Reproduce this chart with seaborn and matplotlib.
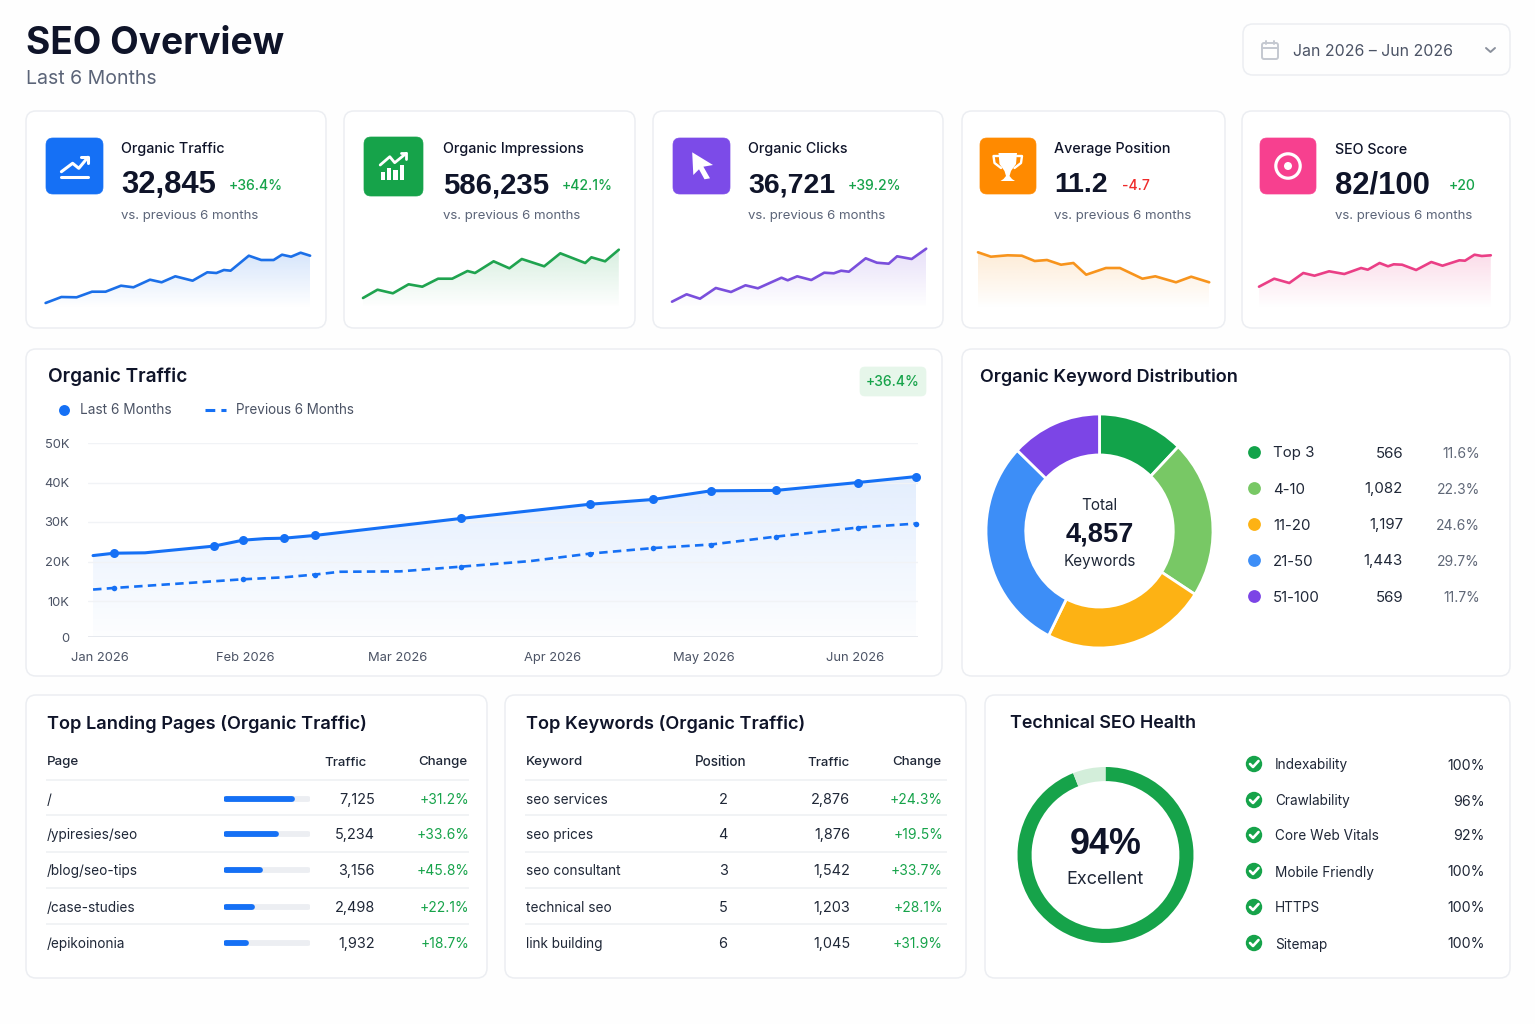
import matplotlib
matplotlib.use("Agg")
import matplotlib.pyplot as plt
import matplotlib.colors as mcolors
from matplotlib.patches import FancyBboxPatch, Circle, Polygon
import numpy as np
import seaborn as sns

W, H = 1535, 1024

# kpi cards
kpi_titles = ["Organic Traffic", "Organic Impressions", "Organic Clicks", "Average Position", "SEO Score"]
kpi_values = ["32,845", "586,235", "36,721", "11.2", "82/100"]
kpi_deltas = ["+36.4%", "+42.1%", "+39.2%", "-4.7", "+20"]
kpi_colors = ["#1570f5", "#16a34a", "#7c4be8", "#ff8a00", "#f7408f"]
spark_colors = ["#1b6fe8", "#1fa34f", "#7a4fdc", "#f7941d", "#ea3f86"]

# sparklines: x offset along the card, height of the line
spark1_x = [0, 15.8, 31, 46.4, 60, 75.4, 87.8, 104.4, 116, 129.7, 147, 161.7, 170.8, 178.3, 185, 203.2, 215.6, 228, 236.4, 245.5, 255, 264.5]
spark1_y = [5, 11, 10.7, 16.3, 16.3, 22.3, 20.7, 28.3, 25.7, 31.7, 27.3, 35.7, 35, 38, 37.3, 52.3, 48, 48, 53.3, 51.3, 55.3, 52.3]
spark2_x = [0, 14.5, 29.9, 45.6, 59.3, 75.1, 89.2, 104.5, 112, 130.6, 146.4, 158.8, 181.2, 197.3, 222.2, 228.4, 242.1, 255.8]
spark2_y = [10, 18.3, 14.7, 23.7, 21.3, 29.3, 29.3, 37, 35, 46.7, 39.7, 49, 41.7, 54.7, 45, 50.7, 46.7, 58.3]
spark3_x = [0, 14.6, 28, 43.8, 59, 73.5, 85.9, 109.5, 115.7, 125.2, 139.3, 152.2, 161.8, 169.1, 176.9, 193.7, 204.9, 216.7, 225.1, 239.7, 254.2]
spark3_y = [6.3, 13.7, 9.3, 20, 16, 22.7, 19.7, 30.3, 27.7, 31.7, 28, 35.3, 34.7, 37.3, 36.3, 49.7, 45.3, 44.3, 51.7, 49, 59.3]
spark4_x = [0, 12.9, 29.7, 43.8, 56.7, 69, 83, 95.4, 108.2, 127.9, 141.9, 164.4, 177.3, 198, 213.2, 231.2]
spark4_y = [55.7, 51.3, 52.7, 52.3, 47, 48, 43.3, 45, 33.3, 40, 40, 29.3, 31.7, 25.7, 31.3, 25.7]
spark5_x = [0, 15.2, 30.3, 44.3, 55.5, 70.1, 85.3, 102.1, 108.8, 120.6, 129, 134.7, 143.1, 157.1, 172.3, 183.5, 200.4, 206, 215.5, 222.8, 231.8]
spark5_y = [21.3, 29.3, 25, 35, 32.3, 36.7, 34, 40, 38.3, 45, 41.7, 43.7, 43.3, 38, 46, 42.3, 47.7, 47.3, 53.3, 52, 52.7]

# main traffic chart, x in months from Jan
month_labels = ["Jan 2026", "Feb 2026", "Mar 2026", "Apr 2026", "May 2026", "Jun 2026"]
month_ticks = [0, 0.96, 1.97, 3.0, 4.0, 5.0]
traffic_ticks = [0, 10000, 20000, 30000, 40000, 50000]
traffic_tick_labels = ["0", "10K", "20K", "30K", "40K", "50K"]
current_x = [-0.046, 0.093, 0.298, 0.755, 0.947, 1.093, 1.219, 1.424, 2.391, 3.245, 3.662, 4.046, 4.477, 5.02, 5.404]
current_y = [21500, 22100, 22200, 23900, 25400, 25800, 25900, 26600, 30900, 34500, 35700, 37900, 38000, 40000, 41500]
current_marked = [0, 1, 0, 1, 1, 0, 1, 1, 1, 1, 1, 1, 1, 1, 1]
previous_x = [-0.046, 0.093, 0.755, 0.947, 1.219, 1.424, 1.589, 1.987, 2.391, 2.848, 3.245, 3.662, 4.046, 4.477, 5.02, 5.404]
previous_y = [12900, 13300, 15000, 15500, 16000, 16700, 17400, 17500, 18700, 20100, 22000, 23400, 24300, 26300, 28600, 29600]
previous_marked = [0, 1, 0, 1, 0, 1, 0, 0, 1, 0, 1, 1, 1, 1, 1, 1]

# keyword distribution, arcs as drawn in the picture
kw_labels = ["Top 3", "4-10", "11-20", "21-50", "51-100"]
kw_counts = [566, 1082, 1197, 1443, 569]
kw_share = ["11.6%", "22.3%", "24.6%", "29.7%", "11.7%"]
kw_arc = [12.2, 21.9, 23.3, 29.7, 12.9]
kw_colors = ["#12a34a", "#78c865", "#fdb214", "#3d8ef7", "#7c45e6"]

# tables
page_names = ["/", "/ypiresies/seo", "/blog/seo-tips", "/case-studies", "/epikoinonia"]
page_traffic = [7125, 5234, 3156, 2498, 1932]
page_bar = [81, 63, 44, 35, 28]
page_change = ["+31.2%", "+33.6%", "+45.8%", "+22.1%", "+18.7%"]
keyword_names = ["seo services", "seo prices", "seo consultant", "technical seo", "link building"]
keyword_pos = [2, 4, 3, 5, 6]
keyword_traffic = [2876, 1876, 1542, 1203, 1045]
keyword_change = ["+24.3%", "+19.5%", "+33.7%", "+28.1%", "+31.9%"]

# technical health
health_score = 94
health_items = ["Indexability", "Crawlability", "Core Web Vitals", "Mobile Friendly", "HTTPS", "Sitemap"]
health_values = [100, 96, 92, 100, 100, 100]

DARK = "#0f1429"
BODY = "#1f2737"
MUTED = "#5b6478"
GREEN = "#16a34a"
RED = "#ef2b2b"
BORDER = "#eceef2"
NUM_FONT = ["Liberation Sans", "DejaVu Sans"]

sns.set_theme(style="white")
plt.rcParams["font.family"] = ["Inter", "DejaVu Sans"]

fig = plt.figure(figsize=(W / 100, H / 100), dpi=100, facecolor="#fefefe")
page = fig.add_axes([0, 0, 1, 1], zorder=0)
page.set_xlim(0, W)
page.set_ylim(H, 0)
page.set_axis_off()


def px_axes(x0, y0, x1, y1, zorder=2):
    ax = fig.add_axes([x0 / W, 1 - y1 / H, (x1 - x0) / W, (y1 - y0) / H], zorder=zorder)
    ax.patch.set_visible(False)
    return ax


def txt(x, y, s, size=10, color=BODY, weight="normal", ha="left", family=None):
    page.text(x, y + 1.5, s, fontsize=size, color=color, fontweight=weight, ha=ha, va="center", family=family)


def card(x0, y0, x1, y1, r=10, fc="white", ec=BORDER, lw=1.1):
    page.add_patch(FancyBboxPatch((x0 + r, y0 + r), x1 - x0 - 2 * r, y1 - y0 - 2 * r,
                                  boxstyle=f"round,pad={r},rounding_size={r}",
                                  fc=fc, ec=ec, lw=lw))


def gradient_under(ax, poly, box, color, a0, a1):
    # fade the fill from a0 at the top of box to a1 at the bottom
    gax = px_axes(*box, zorder=1)
    gax.set_axis_off()
    rgba = np.ones((128, 1, 4))
    rgba[:, :, :3] = mcolors.to_rgb(color)
    rgba[:, 0, 3] = np.linspace(a0, a1, 128)
    im = gax.imshow(rgba, extent=[0, 1, 0, 1], aspect="auto", interpolation="bilinear")
    im.set_clip_path(poly.get_paths()[0], transform=ax.transData)


def white_line(xs, ys, lw=2.0):
    page.plot(xs, ys, color="white", lw=lw, solid_capstyle="round", solid_joinstyle="round")


# header
txt(26, 42.5, "SEO Overview", 26.7, DARK, "bold")
txt(26, 78, "Last 6 Months", 14, MUTED)
card(1243, 24, 1510, 75, fc="#fefefe")
page.add_patch(FancyBboxPatch((1263, 44), 14, 14, boxstyle="round,pad=1,rounding_size=2", fc="none", ec="#c4c8d0", lw=1.4))
page.plot([1262, 1278], [47.5, 47.5], color="#c4c8d0", lw=1.4)
page.plot([1266, 1266], [41, 44], color="#c4c8d0", lw=1.4)
page.plot([1274, 1274], [41, 44], color="#c4c8d0", lw=1.4)
txt(1293, 50, "Jan 2026 – Jun 2026", 11.4, "#4b5365")
page.plot([1486, 1490.5, 1495], [48, 52, 48], color="#8a909c", lw=1.4)

# kpi cards
card_boxes = [(26, 326), (344, 635), (653, 943), (962, 1225), (1242, 1510)]
icon_boxes = [(46, 138, 103, 194), (364, 137, 423, 196), (673, 138, 730, 194), (980, 138, 1036, 194), (1260, 138, 1316, 194)]
text_x = [121, 443, 748, 1054, 1335]
title_y = [147, 148, 148, 148, 148]
delta_x = [229, 562, 848, 1122, 1449]
value_size = [22.3, 21.2, 20.5, 20.5, 22.3]
spark_x0 = [45.6, 363, 672, 978, 1259]
spark_xs = [spark1_x, spark2_x, spark3_x, spark4_x, spark5_x]
spark_ys = [spark1_y, spark2_y, spark3_y, spark4_y, spark5_y]

for i in range(5):
    card(card_boxes[i][0], 111, card_boxes[i][1], 328)
    ix0, iy0, ix1, iy1 = icon_boxes[i]
    card(ix0, iy0, ix1, iy1, r=7, fc=kpi_colors[i], ec=kpi_colors[i], lw=0.5)
    txt(text_x[i], title_y[i], kpi_titles[i], 10.3, DARK, "medium")
    txt(text_x[i], 184, kpi_values[i], value_size[i], DARK, "bold", family=NUM_FONT)
    txt(delta_x[i], 185, kpi_deltas[i], 10.1, RED if kpi_deltas[i].startswith("-") else GREEN, "medium")
    txt(text_x[i], 214, "vs. previous 6 months", 9.5, MUTED)

    ax = px_axes(spark_x0[i], 238, spark_x0[i] + max(spark_xs[i]), 308)
    sns.lineplot(x=spark_xs[i], y=spark_ys[i], ax=ax, color=spark_colors[i], lw=1.9, errorbar=None, legend=False, sort=False)
    ax.set_xlim(0, max(spark_xs[i]))
    ax.set_ylim(0, 70)
    ax.set_axis_off()
    for ln in ax.lines:
        ln.set_clip_on(False)
    poly = ax.fill_between(spark_xs[i], spark_ys[i], 0, facecolor="none", lw=0)
    top = 308 - max(spark_ys[i])
    gradient_under(ax, poly, (spark_x0[i], top, spark_x0[i] + max(spark_xs[i]), 308), spark_colors[i], 0.18, 0.0)

# icons
white_line([61.4, 72.6, 78.8, 87.9], [171.7, 163.3, 168.3, 157.3], 2.2)
white_line([80.8, 87.9, 87.9], [157.3, 157.3, 163.3], 2.2)
white_line([60.5, 87.9], [177.3, 177.3], 2.2)
for bx, by in zip([380.5, 386.8, 393.2, 399.6], [171.5, 168.3, 170, 165]):
    page.add_patch(plt.Rectangle((bx, by), 4.4, 180 - by, fc="white", ec="none"))
white_line([380.2, 389.8, 394.7, 406.3], [165, 156.7, 162.7, 153.3], 2.0)
white_line([400.5, 406.3, 406.3], [153.3, 153.3, 159], 2.0)
page.add_patch(Polygon([(692.2, 152.3), (713, 165), (703.4, 166.7), (710, 178.3), (704.5, 179.3), (699, 169.3), (693.3, 175)], fc="white", ec="none"))
page.add_patch(Polygon([(998.5, 153), (1017, 153), (1016, 164), (1011, 171), (1009.5, 176), (1012, 179), (1015, 181), (1000.5, 181), (1003.5, 179), (1006, 176), (1004.5, 171), (999.5, 164)], fc="white", ec="none"))
page.plot([998.5, 993.5, 994.5, 1001], [156, 156, 163, 168], color="white", lw=1.7)
page.plot([1017, 1022, 1021, 1014.5], [156, 156, 163, 168], color="white", lw=1.7)
page.add_patch(Circle((1288, 166), 12.2, fc="none", ec="white", lw=2.3))
page.add_patch(Circle((1288, 166), 4.0, fc="white", ec="none"))

# main chart card
card(26, 349, 942, 676)
txt(48, 375.5, "Organic Traffic", 13.7, DARK, "semibold")
card(860, 367, 926, 396, r=5, fc="#e6f6ea", ec="#e6f6ea", lw=0.5)
txt(893, 380.5, "+36.4%", 10.0, GREEN, "medium", "center")
page.scatter([64], [410], s=62, color="#1570f5", lw=0)
txt(80, 409, "Last 6 Months", 9.8, "#4b5365")
page.plot([205, 226], [410, 410], color="#1570f5", lw=2.2, dashes=(3.2, 2.0))
txt(236, 409, "Previous 6 Months", 9.7, "#4b5365")

ax = px_axes(88, 443, 918, 637)
stops_v = [0, 10000, 50000]
stops_h = [0, 36, 194]
ax.set_yscale("function", functions=(lambda v: np.interp(v, stops_v, stops_h), lambda h: np.interp(h, stops_h, stops_v)))
sns.lineplot(x=previous_x, y=previous_y, ax=ax, color="#1570f5", lw=1.9, errorbar=None, legend=False, sort=False)
ax.lines[-1].set_dashes([3.2, 2.0])
sns.lineplot(x=current_x, y=current_y, ax=ax, color="#1570f5", lw=2.2, errorbar=None, legend=False, sort=False)
sns.scatterplot(x=[a for a, m in zip(current_x, current_marked) if m],
                y=[b for b, m in zip(current_y, current_marked) if m],
                ax=ax, s=42, color="#1570f5", lw=0, legend=False, clip_on=False, zorder=5)
sns.scatterplot(x=[a for a, m in zip(previous_x, previous_marked) if m],
                y=[b for b, m in zip(previous_y, previous_marked) if m],
                ax=ax, s=16, color="#1570f5", lw=0, legend=False, clip_on=False, zorder=5)
ax.set_xlim(-0.0795, 5.417)
ax.set_ylim(0, 50000)
ax.set_xticks(month_ticks, month_labels)
ax.set_yticks(traffic_ticks, traffic_tick_labels)
ax.tick_params(axis="x", length=0, pad=10.5, labelsize=9.3, labelcolor="#4b5365")
ax.tick_params(axis="y", length=0, pad=13.5, labelsize=9.3, labelcolor="#4b5365")
ax.grid(axis="y", color="#f1f3f6", lw=1)
ax.axhline(0, color="#e3e6ec", lw=1.2)
ax.set_xlabel("")
ax.set_ylabel("")
sns.despine(ax=ax, left=True, bottom=True)
poly = ax.fill_between(current_x, current_y, 0, facecolor="none", lw=0)
gradient_under(ax, poly, (93, 477, 916, 637), "#1570f5", 0.12, 0.012)

# keyword distribution
card(962, 349, 1510, 676)
txt(980, 375.5, "Organic Keyword Distribution", 13.0, DARK, "semibold")
ax = px_axes(986, 414, 1213, 648)
ax.pie(kw_arc, colors=kw_colors, startangle=90, counterclock=False, radius=1,
       wedgeprops=dict(width=0.35, edgecolor="white", linewidth=2))
ax.set_aspect("auto")
ax.set_xlim(-1, 1)
ax.set_ylim(-1, 1)
txt(1099.5, 504, "Total", 11, BODY, "normal", "center")
txt(1099.5, 533, "4,857", 19.6, DARK, "bold", "center", NUM_FONT)
txt(1099.5, 560, "Keywords", 11, BODY, "normal", "center")
for i, y in enumerate([452, 488, 524, 560, 596]):
    page.scatter([1254], [y], s=85, color=kw_colors[i], lw=0)
    txt(1273, y, kw_labels[i], 10.8, BODY)
    txt(1403, y, f"{kw_counts[i]:,}", 10.8, BODY, "normal", "right")
    txt(1480, y, kw_share[i], 10, "#5f6777", "normal", "right")

# landing pages table
row_y = [799, 834, 870, 907, 943]
line_y = [780, 815, 852, 888, 924]
card(26, 695, 487, 978)
txt(47, 722.5, "Top Landing Pages (Organic Traffic)", 13.1, DARK, "semibold")
txt(47, 761, "Page", 9.6, BODY, "medium")
txt(367, 761, "Traffic", 9.5, BODY, "medium", "right")
txt(467, 761, "Change", 9.5, BODY, "medium", "right")
page.hlines(line_y, 46, 469, color="#eff1f4", lw=1.2)
ax = px_axes(224, 780, 310, 960)
ax.set_xlim(0, 100)
ax.set_ylim(960, 780)
ax.set_axis_off()
ax.hlines(row_y, 2, 98, color="#eceef2", lw=4.2, capstyle="round")
ax.hlines(row_y, 2, [p - 2 for p in page_bar], color="#1570f5", lw=4.2, capstyle="round")
for i, y in enumerate(row_y):
    txt(47, y - 0.5, page_names[i], 9.8, BODY)
    txt(375, y - 0.5, f"{page_traffic[i]:,}", 10.4, BODY, "normal", "right")
    txt(469, y - 0.5, page_change[i], 10, GREEN, "normal", "right")

# keywords table
card(505, 695, 966, 978)
txt(526, 722.5, "Top Keywords (Organic Traffic)", 13.1, DARK, "semibold")
txt(526, 761, "Keyword", 9.6, BODY, "medium")
txt(721, 761, "Position", 9.7, BODY, "medium", "center")
txt(850, 761, "Traffic", 9.5, BODY, "medium", "right")
txt(941, 761, "Change", 9.5, BODY, "medium", "right")
page.hlines(line_y, 525, 947, color="#eff1f4", lw=1.2)
for i, y in enumerate(row_y):
    txt(526, y - 0.5, keyword_names[i], 9.8, BODY)
    txt(723, y - 0.5, str(keyword_pos[i]), 10.4, BODY, "normal", "center")
    txt(850, y - 0.5, f"{keyword_traffic[i]:,}", 10.4, BODY, "normal", "right")
    txt(943, y - 0.5, keyword_change[i], 10, GREEN, "normal", "right")

# technical health
card(985, 695, 1510, 978)
txt(1010, 722.5, "Technical SEO Health", 12.9, DARK, "semibold")
ax = px_axes(1017, 767, 1194, 943)
ax.pie([health_score, 100 - health_score], colors=[GREEN, "#d3eeda"], startangle=90, counterclock=False,
       radius=1, wedgeprops=dict(width=0.16, edgecolor="none"))
ax.set_xlim(-1, 1)
ax.set_ylim(-1, 1)
txt(1105.5, 843, f"{health_score}%", 25.8, DARK, "bold", "center", NUM_FONT)
txt(1105.5, 878.5, "Excellent", 13, BODY, "normal", "center")
for i, y in enumerate([764, 800, 835, 871, 907, 943]):
    page.add_patch(Circle((1254, y), 8.2, fc=GREEN, ec="none"))
    white_line([1250, 1253, 1258.5], [y, y + 3, y - 3], 1.9)
    txt(1275, y, health_items[i], 9.8, BODY)
    txt(1485, y, f"{health_values[i]}%", 10.2, BODY, "normal", "right")

page.set_xlim(0, W)
page.set_ylim(H, 0)
fig.savefig("out.png", dpi=100, facecolor=fig.get_facecolor())
